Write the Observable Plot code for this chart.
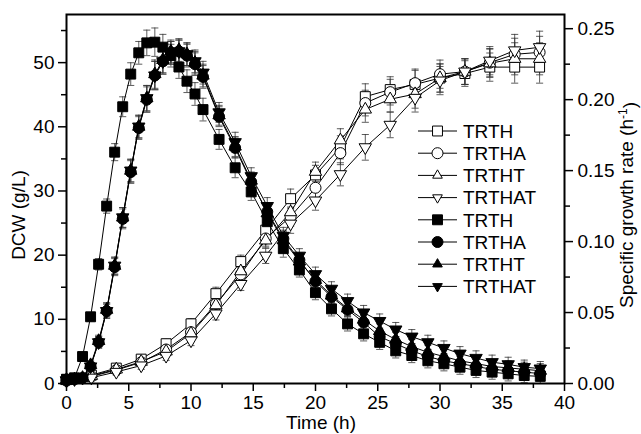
<!DOCTYPE html>
<html>
<head>
<meta charset="utf-8">
<script src="https://cdn.jsdelivr.net/npm/d3@7"></script>
<script src="https://cdn.jsdelivr.net/npm/@observablehq/plot@0.6"></script>
<style>
  body { margin: 0; background: #fff; }
  #wrap { position: relative; width: 641px; height: 434px; }
  #wrap svg { position: absolute; left: 0; top: 0; }
</style>
</head>
<body>
<div id="wrap"></div>
<script>
// ---- Data ----
const strains = ["TRTH", "TRTHA", "TRTHT", "TRTHAT"];

// Dry cell weight (g/L), open markers, left axis
const dcwTime = [0, 2, 4, 6, 8, 10, 12, 14, 16, 18, 20, 22, 24, 26, 28, 30, 32, 34, 36, 38];
const dcwTRTH   = [0.6, 1.3, 2.4, 3.8, 6.2, 9.3, 14.0, 19.0, 23.9, 28.8, 32.5, 36.8, 44.7, 45.8, 46.6, 47.6, 48.3, 49.3, 49.3, 49.3];
const dcwTRTHA  = [0.6, 1.1, 2.1, 3.3, 5.3, 8.0, 12.4, 17.0, 22.6, 26.0, 30.5, 35.9, 43.7, 45.4, 46.8, 48.2, 48.6, 50.0, 51.3, 51.6];
const dcwTRTHT  = [0.6, 1.2, 2.2, 3.4, 5.0, 7.8, 12.2, 17.5, 22.3, 26.7, 33.0, 37.9, 42.7, 44.3, 45.1, 47.6, 48.6, 49.9, 50.6, 50.6];
const dcwTRTHAT = [0.5, 0.9, 1.8, 2.8, 4.3, 6.7, 10.9, 15.5, 19.9, 24.9, 28.5, 32.6, 36.8, 40.3, 44.5, 47.2, 48.6, 50.3, 51.9, 52.4];
const dcwErr    = [0.3, 0.4, 0.5, 0.6, 0.7, 0.8, 1.0, 1.0, 1.2, 1.5, 1.5, 1.8, 2.0, 2.0, 2.2, 2.2, 2.0, 2.2, 2.5, 2.5];

// Specific growth rate (1/h), filled markers, right axis
const muTime = [0, 0.645, 1.29, 1.935, 2.58, 3.225, 3.87, 4.515, 5.16, 5.805, 6.45, 7.095, 7.74, 8.385, 9.03, 9.675, 10.32, 10.965,
  12.255, 13.545, 14.835, 16.125, 17.415, 18.705, 19.995, 21.285, 22.575, 23.865, 25.155, 26.445, 27.735, 29.025, 30.315,
  31.605, 32.895, 34.185, 35.475, 36.765, 38.055];
const muTRTH   = [0.003, 0.004, 0.019, 0.047, 0.084, 0.125, 0.163, 0.195, 0.218, 0.233, 0.240, 0.2405, 0.237, 0.231, 0.223, 0.213, 0.204, 0.193,
  0.172, 0.152, 0.135, 0.114, 0.095, 0.080, 0.064, 0.0526, 0.042, 0.035, 0.029, 0.023, 0.0197, 0.016, 0.0139, 0.0115, 0.0092, 0.008, 0.0068, 0.0056, 0.005];
const muTRTHA  = [0.002, 0.003, 0.004, 0.012, 0.029, 0.051, 0.082, 0.116, 0.149, 0.180, 0.200, 0.217, 0.227, 0.233, 0.234, 0.231, 0.225, 0.216,
  0.188, 0.166, 0.142, 0.121, 0.102, 0.087, 0.072, 0.061, 0.052, 0.043, 0.033, 0.028, 0.023, 0.019, 0.016, 0.014, 0.012, 0.010, 0.009, 0.008, 0.007];
const muTRTHT  = [0.002, 0.003, 0.004, 0.013, 0.030, 0.052, 0.083, 0.117, 0.150, 0.181, 0.201, 0.218, 0.228, 0.234, 0.235, 0.232, 0.226, 0.217,
  0.189, 0.167, 0.143, 0.120, 0.101, 0.086, 0.073, 0.062, 0.053, 0.045, 0.037, 0.031, 0.026, 0.022, 0.019, 0.016, 0.014, 0.012, 0.011, 0.010, 0.009];
const muTRTHAT = [0.002, 0.003, 0.004, 0.012, 0.029, 0.051, 0.083, 0.117, 0.150, 0.181, 0.201, 0.217, 0.227, 0.233, 0.234, 0.232, 0.227, 0.219,
  0.191, 0.170, 0.146, 0.125, 0.104, 0.090, 0.077, 0.0667, 0.058, 0.050, 0.044, 0.038, 0.033, 0.029, 0.025, 0.021, 0.018, 0.015, 0.0135, 0.0115, 0.0105];
const muErr = [0.001, 0.001, 0.002, 0.003, 0.004, 0.005, 0.006, 0.007, 0.008, 0.008, 0.009, 0.010, 0.009, 0.008, 0.008, 0.008, 0.008, 0.008,
  0.007, 0.007, 0.006, 0.006, 0.006, 0.005, 0.005, 0.005, 0.005, 0.005, 0.005, 0.005, 0.005, 0.005, 0.005, 0.005, 0.005, 0.005, 0.005, 0.005, 0.005];

const xTicks = [0, 5, 10, 15, 20, 25, 30, 35, 40];
const leftTicks = [0, 10, 20, 30, 40, 50];
const rightTicks = [0, 0.05, 0.10, 0.15, 0.20, 0.25];
const xTitle = "Time (h)";
const leftTitle = "DCW (g/L)";
const rightTitle = "Specific growth rate (h";

// ---- Build ----
const yMax = 57.5, rMax = 0.26, k = yMax / rMax;
const dcwSeries = [dcwTRTH, dcwTRTHA, dcwTRTHT, dcwTRTHAT];
const muSeries = [muTRTH, muTRTHA, muTRTHT, muTRTHAT];
const symbolOf = ["square", "circle", "triangle", "triangle"];
const rotOf = [0, 0, 0, 180];
const rOf = [5.6, 5.5, 4.6, 4.6];

const openRows = [], fillRows = [];
strains.forEach((s, i) => {
  dcwTime.forEach((t, j) => openRows.push({s, i, t, v: dcwSeries[i][j], e: dcwErr[j]}));
  muTime.forEach((t, j) => fillRows.push({s, i, t, v: muSeries[i][j] * k, e: muErr[j] * k}));
});

const cap = {draw(ctx, size) { const w = Math.sqrt(size); ctx.moveTo(-w / 2, 0); ctx.lineTo(w / 2, 0); }};
const font = "'Liberation Sans', Arial, Helvetica, sans-serif";

function errMarks(rows) {
  return [
    Plot.ruleX(rows, {x: "t", y1: d => d.v - d.e, y2: d => d.v + d.e, stroke: "#333", strokeWidth: 0.8}),
    Plot.dot(rows, {x: "t", y: d => d.v + d.e, symbol: cap, r: 4, fill: "none", stroke: "#333", strokeWidth: 0.8}),
    Plot.dot(rows, {x: "t", y: d => d.v - d.e, symbol: cap, r: 4, fill: "none", stroke: "#333", strokeWidth: 0.8})
  ];
}

const marks = [];
marks.push(...errMarks(openRows));
marks.push(...errMarks(fillRows));
strains.forEach((s, i) => {
  marks.push(Plot.line(openRows.filter(d => d.i === i), {x: "t", y: "v", stroke: "black", strokeWidth: 1}));
});
strains.forEach((s, i) => {
  marks.push(Plot.dot(openRows.filter(d => d.i === i), {x: "t", y: "v", symbol: symbolOf[i], rotate: rotOf[i], r: rOf[i], fill: "white", stroke: "black", strokeWidth: 1}));
});
strains.forEach((s, i) => {
  marks.push(Plot.line(fillRows.filter(d => d.i === i), {x: "t", y: "v", stroke: "black", strokeWidth: 1}));
});
strains.forEach((s, i) => {
  marks.push(Plot.dot(fillRows.filter(d => d.i === i), {x: "t", y: "v", symbol: symbolOf[i], rotate: rotOf[i], r: rOf[i], fill: "black", stroke: "black", strokeWidth: 1}));
});

// axes
const minorX = xTicks.slice(0, -1).map(v => v + 2.5);
const minorL = leftTicks.map(v => v + 5);
const minorR = rightTicks.slice(0, -1).map(v => (v + 0.025) * k);
marks.push(
  Plot.axisX(xTicks, {tickSize: 8, tickPadding: 4, strokeWidth: 1.5, fontSize: 19, tickFormat: d => String(d), label: null}),
  Plot.axisX(minorX, {tickSize: 5, strokeWidth: 1.5, tickFormat: () => "", label: null}),
  Plot.axisY(leftTicks, {anchor: "left", tickSize: 8, tickPadding: 4, strokeWidth: 1.5, fontSize: 19, tickFormat: d => String(d), label: null}),
  Plot.axisY(minorL, {anchor: "left", tickSize: 5, strokeWidth: 1.5, tickFormat: () => "", label: null}),
  Plot.axisY(rightTicks.map(v => v * k), {anchor: "right", tickSize: 8, tickPadding: 5, strokeWidth: 1.5, fontSize: 19, tickFormat: d => (d / k).toFixed(2), label: null}),
  Plot.axisY(minorR, {anchor: "right", tickSize: 5, strokeWidth: 1.5, tickFormat: () => "", label: null}),
  Plot.frame({stroke: "black", strokeWidth: 2})
);

const chart = Plot.plot({
  width: 641, height: 434,
  marginLeft: 66, marginRight: 77, marginTop: 14, marginBottom: 51,
  style: {fontFamily: font, fontSize: "19px", background: "white", color: "black", overflow: "visible"},
  x: {domain: [0, 40]},
  y: {domain: [0, yMax]},
  marks
});
document.getElementById("wrap").appendChild(chart);

// ---- Overlay: axis titles and legend ----
const lg = d3.select("#wrap").append("svg").attr("width", 641).attr("height", 434)
  .style("font-family", font).style("font-size", "19px").style("pointer-events", "none");

lg.append("text").attr("transform", "translate(321,422)").attr("text-anchor", "middle").attr("dy", "0.36em")
  .attr("fill", "black").text(xTitle);
lg.append("text").attr("transform", "translate(18,215) rotate(-90)").attr("text-anchor", "middle").attr("dy", "0.36em")
  .attr("fill", "black").text(leftTitle);
const rt = lg.append("text").attr("transform", "translate(626,205) rotate(-90)").attr("text-anchor", "middle").attr("dy", "0.36em")
  .attr("fill", "black");
rt.append("tspan").text(rightTitle);
rt.append("tspan").attr("dy", "-0.45em").attr("font-size", "12px").text("-1");
rt.append("tspan").attr("dy", "0.45em").text(")");

const legendItems = [
  ...strains.map((s, i) => ({label: s, i, filled: false})),
  ...strains.map((s, i) => ({label: s, i, filled: true}))
];
const d3sym = {square: d3.symbolSquare, circle: d3.symbolCircle, triangle: d3.symbolTriangle2};
legendItems.forEach((it, n) => {
  const y = 131 + n * 22.2;
  const g = lg.append("g");
  g.append("line").attr("x1", 418).attr("x2", 457).attr("y1", y).attr("y2", y).attr("stroke", "black").attr("stroke-width", 1);
  const r = rOf[it.i];
  g.append("path")
    .attr("d", d3.symbol(d3sym[symbolOf[it.i]], Math.PI * r * r)())
    .attr("transform", `translate(437.5,${y}) rotate(${rotOf[it.i]})`)
    .attr("fill", it.filled ? "black" : "white").attr("stroke", "black").attr("stroke-width", 1);
  g.append("text").attr("x", 463).attr("y", y).attr("dy", "0.36em").attr("fill", "black").text(it.label);
});
</script>
</body>
</html>
